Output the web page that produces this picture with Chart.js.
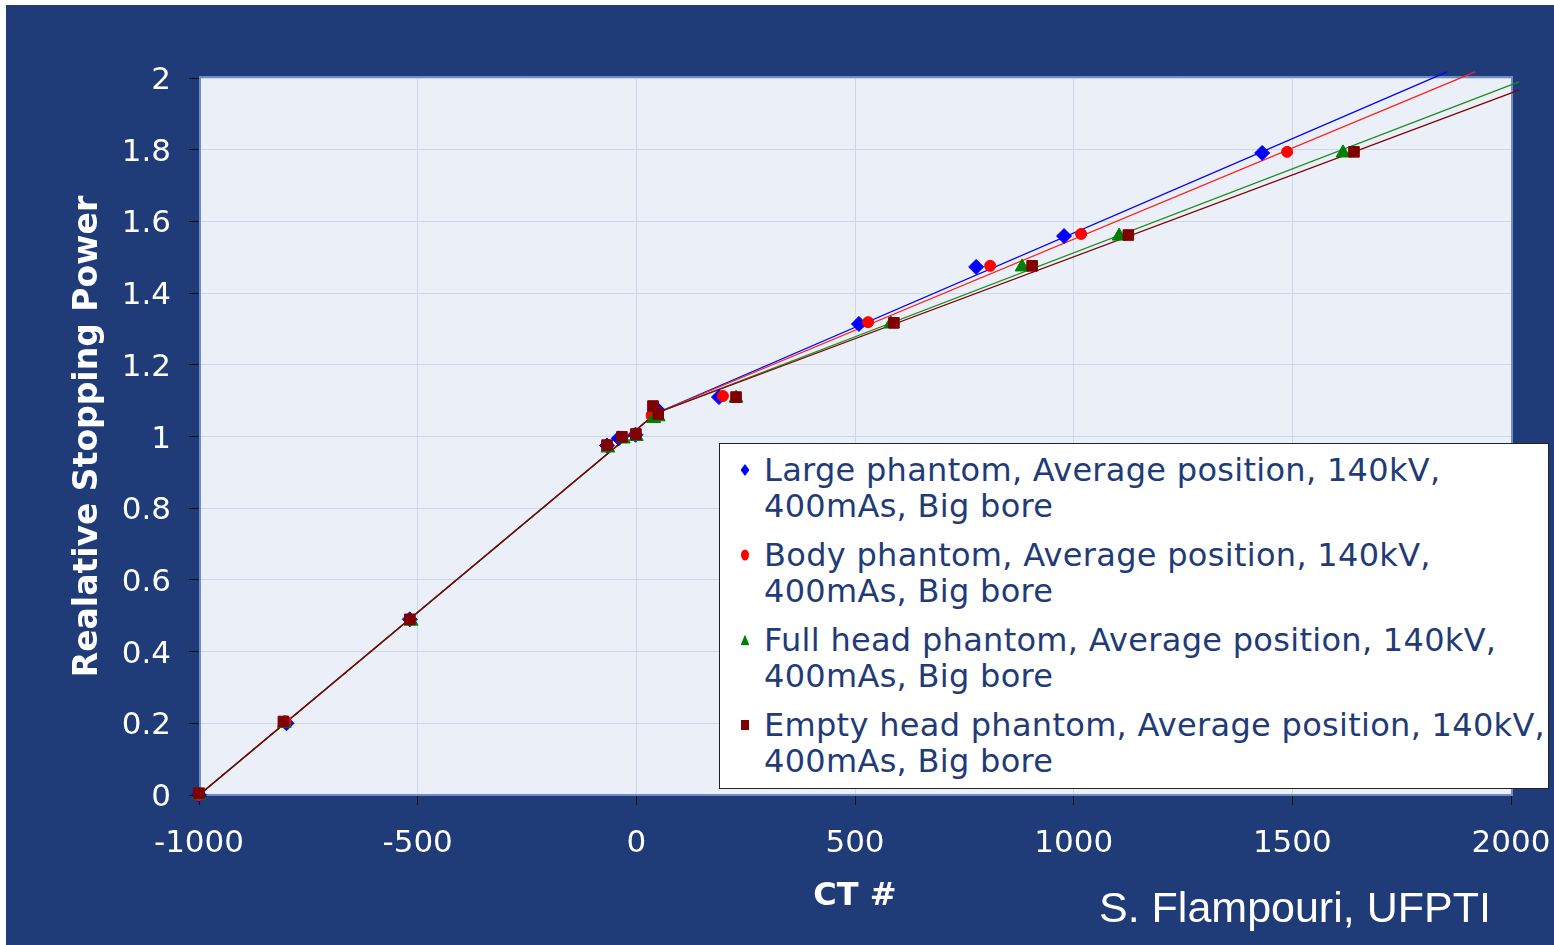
<!DOCTYPE html>
<html>
<head>
<meta charset="utf-8">
<title>Relative Stopping Power vs CT #</title>
<script src="https://cdn.jsdelivr.net/npm/chart.js@4.4.1/dist/chart.umd.min.js"></script>
<style>
    html, body { margin: 0; padding: 0; background: #FFFFFF; }
    #painel { position: relative; width: 1554px; height: 945px; overflow: hidden; }
    #fundo { position: absolute; left: 6px; top: 5px; right: 0; bottom: 0; background: #1F3B78; }
    #grafico { position: absolute; left: 0; top: 0; }
    #legenda {
        position: absolute; left: 719px; top: 443px; width: 830px; height: 346px;
        box-sizing: border-box; background: #FFFFFF; border: 1px solid #222222;
        font-family: 'DejaVu Sans', sans-serif; font-size: 32px; color: #1F3B78;
        letter-spacing: 0.3px; padding-top: 8px;
    }
    #legenda .item { position: relative; margin-bottom: 13px; }
    #legenda .texto { margin-left: 44px; line-height: 36px; white-space: pre; }
    #legenda .marca { position: absolute; left: 25px; top: 18px; transform: translate(-50%, -50%); background: var(--cor); }
    #legenda .rectRot { width: 9px; height: 12px; clip-path: polygon(50% 0, 100% 50%, 50% 100%, 0 50%); }
    #legenda .circle { width: 8px; height: 11px; border-radius: 50%; }
    #legenda .triangle { width: 9px; height: 11px; clip-path: polygon(50% 0, 100% 100%, 0 100%); }
    #legenda .rect { width: 8px; height: 10px; }
    #autor {
        position: absolute; left: 1099px; top: 886px; line-height: 42px;
        font-family: 'Liberation Sans', Arial, sans-serif; font-size: 43px; color: #FFFFFF;
    }
</style>
</head>
<body>
<div id="painel">
    <div id="fundo"></div>
    <canvas id="grafico" width="1554" height="945"></canvas>
    <div id="legenda"></div>
    <div id="autor">S. Flampouri, UFPTI</div>
</div>
<script>
// Measured points: CT number vs relative stopping power
const ctLarge  = [-1000, -800, -518, -67, -40, -2, 40, 48, 189, 509, 777, 978, 1431];
const rspLarge = [0, 0.2, 0.49, 0.975, 0.995, 1.005, 1.065, 1.075, 1.11, 1.314, 1.473, 1.559, 1.791];

const ctBody  = [-1000, -802, -517, -66, -33, -2, 35, 45, 198, 530, 809, 1017, 1488];
const rspBody = [0, 0.205, 0.49, 0.975, 0.998, 1.006, 1.058, 1.07, 1.113, 1.319, 1.476, 1.565, 1.794];

const ctFullHead  = [-1000, -805, -515, -65, -30, 0, 40, 50, 228, 582, 882, 1104, 1616];
const rspFullHead = [0, 0.2, 0.485, 0.968, 0.993, 1.0, 1.05, 1.055, 1.107, 1.314, 1.473, 1.559, 1.791];

const ctEmptyHead  = [-1000, -807, -518, -67, -33, -1, 38, 50, 228, 589, 905, 1125, 1641];
const rspEmptyHead = [0.005, 0.205, 0.49, 0.976, 0.999, 1.007, 1.085, 1.063, 1.11, 1.317, 1.476, 1.562, 1.794];

// Bilinear calibration fits (knee near water)
const fitCtLarge  = [-1000, 45, 1854];
const fitRspLarge = [0, 1.065, 2.017];
const fitCtBody  = [-1000, 45, 1918];
const fitRspBody = [0, 1.065, 2.017];
const fitCtFullHead  = [-1000, 45, 2018];
const fitRspFullHead = [0, 1.065, 1.989];
const fitCtEmptyHead  = [-1000, 45, 2018];
const fitRspEmptyHead = [0, 1.065, 1.966];

const seriesNames = [
    'Large phantom, Average position, 140kV,\n400mAs, Big bore',
    'Body phantom, Average position, 140kV,\n400mAs, Big bore',
    'Full head phantom, Average position, 140kV,\n400mAs, Big bore',
    'Empty head phantom, Average position, 140kV,\n400mAs, Big bore'
];

function pares(xs, ys) {
    return xs.map((x, i) => ({ x: x, y: ys[i] }));
}

function serie(nome, xs, ys, cor, estilo, raio, ordem) {
    return {
        label: nome, data: pares(xs, ys),
        pointStyle: estilo, pointRadius: raio,
        backgroundColor: cor, borderColor: cor, borderWidth: 1,
        showLine: false, clip: false, order: ordem
    };
}

function ajuste(xs, ys, cor, ordem) {
    return {
        label: 'fit', data: pares(xs, ys),
        showLine: true, pointRadius: 0, borderColor: cor, borderWidth: 1.3,
        backgroundColor: cor, clip: false, order: ordem, fitLine: true
    };
}

// chart area background and frame
const fundoPlot = {
    id: 'fundoPlot',
    beforeDraw(chart) {
        const { ctx, chartArea: a } = chart;
        ctx.save();
        ctx.fillStyle = '#EBF0F8';
        ctx.fillRect(a.left, a.top, a.right - a.left, a.bottom - a.top);
        ctx.restore();
    },
    beforeDatasetsDraw(chart) {
        const { ctx, chartArea: a } = chart;
        ctx.save();
        ctx.strokeStyle = '#6D8CC8';
        ctx.lineWidth = 2;
        ctx.strokeRect(a.left + 1, a.top - 1, a.right - a.left, a.bottom - a.top + 1);
        ctx.restore();
    }
};

// legend as html, built from the marker datasets
const legendaHtml = {
    id: 'legendaHtml',
    afterUpdate(chart) {
        const caixa = document.getElementById('legenda');
        caixa.innerHTML = '';
        chart.data.datasets.filter(ds => !ds.fitLine).forEach(ds => {
            const item = document.createElement('div');
            item.className = 'item';
            const marca = document.createElement('span');
            marca.className = 'marca ' + ds.pointStyle;
            marca.style.setProperty('--cor', ds.backgroundColor);
            const texto = document.createElement('div');
            texto.className = 'texto';
            texto.textContent = ds.label;
            item.appendChild(marca);
            item.appendChild(texto);
            caixa.appendChild(item);
        });
    }
};

const ctx = document.getElementById('grafico').getContext('2d');
new Chart(ctx, {
    type: 'scatter',
    data: {
        datasets: [
            serie(seriesNames[0], ctLarge, rspLarge, '#0000FF', 'rectRot', 7.5, 3),
            serie(seriesNames[1], ctBody, rspBody, '#FF0000', 'circle', 5.5, 2),
            serie(seriesNames[2], ctFullHead, rspFullHead, '#008000', 'triangle', 8, 1),
            serie(seriesNames[3], ctEmptyHead, rspEmptyHead, '#800000', 'rect', 7.5, 0),
            ajuste(fitCtLarge, fitRspLarge, '#0000FF', 13),
            ajuste(fitCtBody, fitRspBody, '#FF2020', 12),
            ajuste(fitCtFullHead, fitRspFullHead, '#1E8C1E', 11),
            ajuste(fitCtEmptyHead, fitRspEmptyHead, '#800000', 10)
        ]
    },
    options: {
        responsive: false,
        animation: false,
        layout: { padding: { top: 78, right: 43, left: 0, bottom: 0 } },
        plugins: { legend: { display: false }, tooltip: { enabled: false } },
        scales: {
            x: {
                type: 'linear', min: -1000, max: 2000,
                afterFit: s => { s.height = 150; s.paddingLeft = 0; s.paddingRight = 0; },
                ticks: {
                    stepSize: 500, color: '#FFFFFF', padding: 20,
                    font: { family: 'DejaVu Sans', size: 31 },
                    callback: v => String(v)
                },
                grid: { color: '#CDD7EA', tickColor: '#111111', tickLength: 10 },
                border: { color: '#111111', width: 1 },
                title: {
                    display: true, text: 'CT #', color: '#FFFFFF',
                    font: { family: 'DejaVu Sans', size: 32, weight: 'bold' },
                    padding: { top: 0, bottom: 29 }
                }
            },
            y: {
                type: 'linear', min: 0, max: 2,
                afterFit: s => { s.width = 199; s.paddingTop = 0; s.paddingBottom = 0; },
                ticks: {
                    stepSize: 0.2, color: '#FFFFFF', padding: 18, labelOffset: 3,
                    font: { family: 'DejaVu Sans', size: 31 },
                    callback: v => String(+v.toFixed(1))
                },
                grid: { color: '#CDD7EA', tickColor: '#111111', tickLength: 10 },
                border: { color: '#111111', width: 1 },
                title: {
                    display: true, text: 'Realative Stopping Power', color: '#FFFFFF',
                    font: { family: 'DejaVu Sans', size: 33, weight: 'bold' },
                    padding: { top: 69, bottom: 0 }
                }
            }
        }
    },
    plugins: [fundoPlot, legendaHtml]
});
</script>
</body>
</html>
